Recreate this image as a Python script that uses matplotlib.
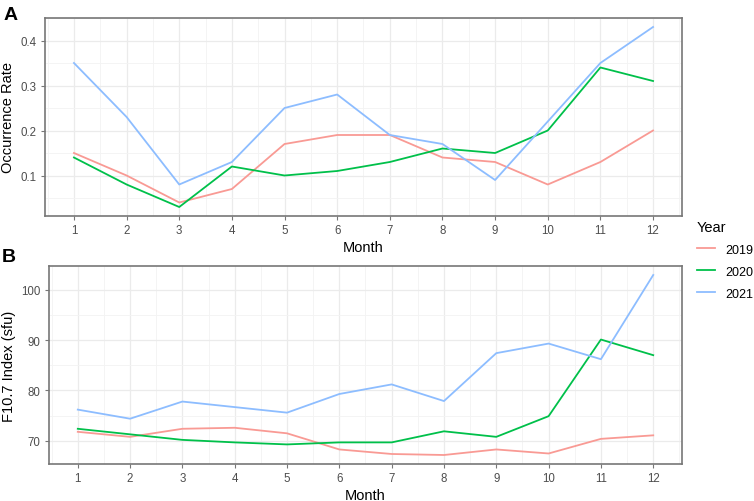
import matplotlib
matplotlib.use("Agg")
import matplotlib.pyplot as plt
from matplotlib.ticker import MultipleLocator
from matplotlib.lines import Line2D

months = list(range(1, 13))
years = ["2019", "2020", "2021"]

occ_2019 = [0.15, 0.10, 0.04, 0.07, 0.17, 0.19, 0.19, 0.14, 0.13, 0.08, 0.13, 0.20]
occ_2020 = [0.14, 0.08, 0.03, 0.12, 0.10, 0.11, 0.13, 0.16, 0.15, 0.20, 0.34, 0.31]
occ_2021 = [0.35, 0.23, 0.08, 0.13, 0.25, 0.28, 0.19, 0.17, 0.09, 0.22, 0.35, 0.43]

f107_2019 = [71.8, 70.8, 72.4, 72.6, 71.5, 68.3, 67.4, 67.2, 68.3, 67.5, 70.4, 71.1]
f107_2020 = [72.4, 71.3, 70.2, 69.7, 69.3, 69.7, 69.7, 71.9, 70.8, 74.9, 90.1, 87.0]
f107_2021 = [76.2, 74.4, 77.8, 76.7, 75.6, 79.3, 81.2, 77.9, 87.4, 89.3, 86.2, 102.9]

colors = ["#F99A94", "#00C04A", "#8DBDFF"]

plt.rcParams['font.family'] = ['Liberation Sans', 'DejaVu Sans']

W, H = 754, 502
fig = plt.figure(figsize=(W / 100, H / 100), dpi=100)
fig.patch.set_facecolor("white")


def pix_axes(l, r, t, b):
    return fig.add_axes([l / W, (H - b) / H, (r - l) / W, (b - t) / H])


def style(ax, series, ylabel, major, minor):
    for vals, c in zip(series, colors):
        ax.plot(months, vals, color=c, lw=1.3, solid_joinstyle='round', zorder=3)
    allv = [v for s in series for v in s]
    lo, hi = min(allv), max(allv)
    pad = (hi - lo) * 0.05
    ax.set_ylim(lo - pad, hi + pad)
    ax.set_xlim(0.45, 12.55)
    ax.set_xticks(months)
    ax.set_xticks([m + 0.5 for m in months[:-1]] + [0.5, 12.5], minor=True)
    ax.yaxis.set_major_locator(MultipleLocator(major))
    ax.yaxis.set_minor_locator(MultipleLocator(minor))
    ax.grid(which='major', color='#EBEBEB', lw=0.9, zorder=0)
    ax.grid(which='minor', color='#F3F3F3', lw=0.6, zorder=0)
    for s in ax.spines.values():
        s.set_color('#777777')
        s.set_linewidth(1.2)
    ax.tick_params(which='major', length=3, width=0.8, color='#777777',
                   labelsize=8.3, labelcolor='#4D4D4D', pad=3)
    ax.tick_params(which='minor', length=0)
    ax.set_xlabel("Month", fontsize=10.5, labelpad=3)
    ax.set_ylabel(ylabel, fontsize=10.5, labelpad=4)
    ax.set_axisbelow(True)


axA = pix_axes(45, 682, 19, 217)
style(axA, [occ_2019, occ_2020, occ_2021], "Occurrence Rate", 0.1, 0.05)
axA.yaxis.set_major_formatter(matplotlib.ticker.FuncFormatter(lambda v, p: f"{v:.1f}"))

axB = pix_axes(49, 682, 267, 465)
style(axB, [f107_2019, f107_2020, f107_2021], "F10.7 Index (sfu)", 10, 5)

fig.text(4 / W, 1 - 15 / H, "A", fontsize=14, fontweight='bold', va='center', ha='left')
fig.text(2 / W, 1 - 258 / H, "B", fontsize=14, fontweight='bold', va='center', ha='left')

handles = [Line2D([0], [0], color=c, lw=1.3) for c in colors]
leg = fig.legend(handles, years, title="Year", loc='upper left',
                 bbox_to_anchor=(688 / W, 1 - 212 / H), frameon=False,
                 fontsize=9, title_fontsize=10.5, handlelength=1.45,
                 handletextpad=0.8, labelspacing=0.8, alignment='left',
                 borderaxespad=0.3)

fig.savefig("out.png", dpi=100, facecolor="white")
